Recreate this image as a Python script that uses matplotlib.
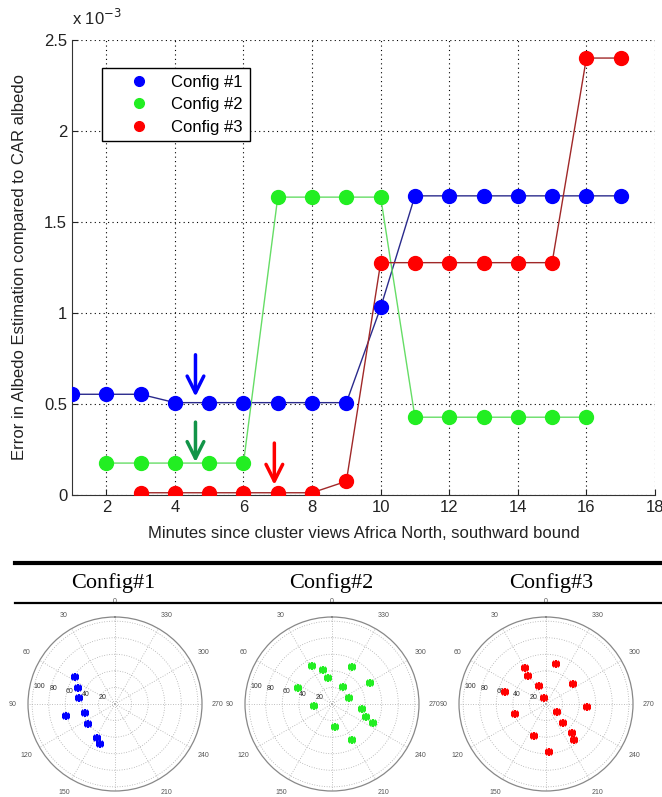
import numpy as np
import matplotlib
matplotlib.use('Agg')
import matplotlib.pyplot as plt
from matplotlib.lines import Line2D
from matplotlib.ticker import FormatStrFormatter

plt.rcParams['font.family'] = ['Liberation Sans', 'DejaVu Sans']

# albedo error per configuration (units of 1e-3)
x1 = [1, 2, 3, 4, 5, 6, 7, 8, 9, 10, 11, 12, 13, 14, 15, 16, 17]
err1 = [0.553, 0.553, 0.553, 0.507, 0.507, 0.507, 0.507, 0.507, 0.507, 1.03,
        1.643, 1.643, 1.643, 1.643, 1.643, 1.643, 1.643]
x2 = [2, 3, 4, 5, 6, 7, 8, 9, 10, 11, 12, 13, 14, 15, 16]
err2 = [0.175, 0.175, 0.175, 0.175, 0.175, 1.636, 1.636, 1.636, 1.636,
        0.427, 0.427, 0.427, 0.427, 0.427, 0.427]
x3 = [3, 4, 5, 6, 7, 8, 9, 10, 11, 12, 13, 14, 15, 16, 17]
err3 = [0.012, 0.012, 0.012, 0.012, 0.012, 0.012, 0.075, 1.276, 1.276, 1.276,
        1.276, 1.276, 1.276, 2.40, 2.40]

labels = ['Config #1', 'Config #2', 'Config #3']
marker_cols = ['#0000ff', '#22ee22', '#ff0000']
line_cols = ['#2a2a8c', '#66dd66', '#a02828']

# arrows: x, tail y, head y
arrow_x = [4.6, 4.6, 6.9]
arrow_from = [0.77, 0.40, 0.285]
arrow_to = [0.54, 0.18, 0.055]
arrow_cols = ['#0000ff', '#129448', '#ff0000']

# satellite view directions for each configuration (deg, radius)
th1 = [56, 67, 81, 104, 107, 127, 152, 160]
r1 = [58, 49, 44, 61, 38, 41, 46, 52]
th2 = [28, 15, 9, 331, 64, 328, 299, 290, 96, 260, 249, 245, 188, 209]
r2 = [52, 42, 32, 51, 45, 24, 52, 22, 22, 37, 44, 55, 28, 50]
th3 = [346, 31, 33, 23, 306, 74, 16, 266, 108, 233, 221, 222, 218, 159, 183]
r3 = [50, 50, 40, 23, 41, 52, 7, 50, 39, 17, 31, 47, 55, 42, 58]
panel_titles = ['Config#1', 'Config#2', 'Config#3']
theta_ticks = list(range(0, 360, 30))

fig = plt.figure(figsize=(6.62, 7.97), dpi=100)
ax = fig.add_axes([0.1088, 0.379, 0.8806, 0.571])

for xs, ys, lc, mc, lab in zip([x1, x2, x3], [err1, err2, err3], line_cols, marker_cols, labels):
    ax.plot(xs, ys, color=lc, lw=1.0, zorder=2)
    ax.plot(xs, ys, ls='none', marker='o', ms=10, mfc=mc, mec=mc, zorder=3)

for xa, y0, y1, c in zip(arrow_x, arrow_from, arrow_to, arrow_cols):
    ax.annotate('', xy=(xa, y1), xytext=(xa, y0),
                arrowprops=dict(arrowstyle='->,head_length=0.6,head_width=0.3',
                                color=c, lw=2.5, mutation_scale=20,
                                shrinkA=0, shrinkB=0), zorder=4)

ax.set_xlim(1, 18)
ax.set_ylim(0, 2.5)
ax.set_xticks(range(2, 19, 2))
ax.set_yticks([0, 0.5, 1, 1.5, 2, 2.5])
ax.yaxis.set_major_formatter(FormatStrFormatter('%g'))
ax.tick_params(direction='in', length=4, labelsize=12, colors='#222222')
ax.grid(True, color='black', ls=(0, (1, 3)), lw=0.8)
ax.spines['top'].set_visible(False)
ax.spines['right'].set_visible(False)
for s in ['left', 'bottom']:
    ax.spines[s].set_color('#333333')
ax.set_xlabel('Minutes since cluster views Africa North, southward bound',
              fontsize=12, color='#222222', labelpad=8)
ax.set_ylabel('Error in Albedo Estimation compared to CAR albedo',
              fontsize=12, color='#222222', labelpad=12)
ax.text(0.0, 1.025, r'x 10$^{-3}$', transform=ax.transAxes, fontsize=12,
        color='#222222', ha='left', va='bottom')

handles = [Line2D([], [], ls='none', marker='o', ms=7, mfc=c, mec=c) for c in marker_cols]
leg = ax.legend(handles, labels, loc='upper left', bbox_to_anchor=(0.0515, 0.938),
                borderaxespad=0, fontsize=12, handlelength=3.6, handletextpad=0.15,
                labelspacing=0.45, fancybox=False, framealpha=1, edgecolor='black')
leg.get_frame().set_linewidth(1.0)

# table-style header above the polar panels
fig.add_artist(Line2D([15 / 662, 1], [1 - 563 / 797] * 2, color='black', lw=3))
fig.add_artist(Line2D([15 / 662, 1], [1 - 603 / 797] * 2, color='black', lw=1.6))
for cx, t in zip([113, 331, 551], panel_titles):
    fig.text(cx / 662, 1 - 583 / 797, t, ha='center', va='center', fontsize=16,
             family=['Liberation Serif', 'DejaVu Serif'])

R = 87
for cx, th, rr, mc in zip([115, 332, 546], [th1, th2, th3], [r1, r2, r3], marker_cols):
    pax = fig.add_axes([(cx - R) / 662, (797 - 704 - R) / 797, 2 * R / 662, 2 * R / 797],
                       projection='polar')
    pax.set_theta_zero_location('N')
    pax.set_theta_direction(1)
    t = np.radians(th)
    pax.plot(t, rr, ls='none', marker='+', ms=6, mew=1.5, color=mc)
    pax.plot(t, rr, ls='none', marker='x', ms=4.5, mew=1.5, color=mc)
    pax.set_ylim(0, 105)
    pax.set_rgrids([20, 40, 60, 80, 100], fontsize=5, color='#333333')
    pax.set_rlabel_position(80)
    pax.set_thetagrids(theta_ticks, labels=[str(a) for a in theta_ticks],
                       fontsize=5, color='#555555')
    pax.tick_params(pad=0.5)
    pax.grid(True, color='#aaaaaa', ls=(0, (1, 2)), lw=0.6)
    pax.spines['polar'].set_color('#888888')
    pax.spines['polar'].set_linewidth(0.9)

fig.savefig('out.png', dpi=100)
